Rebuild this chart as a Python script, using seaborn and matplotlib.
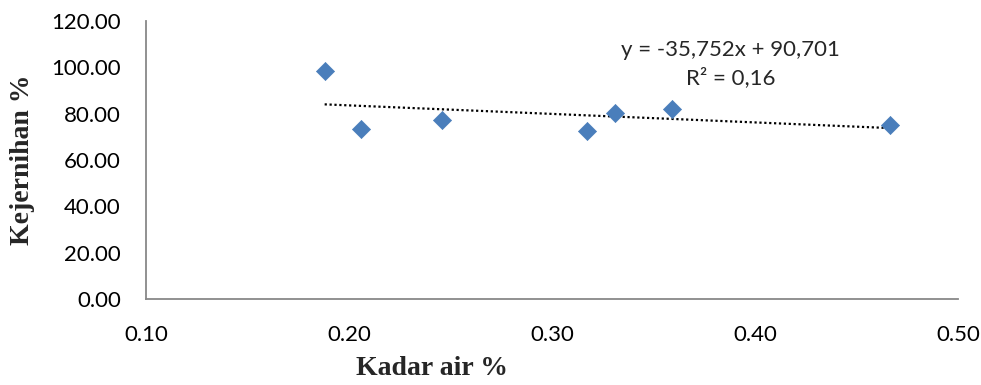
import numpy as np
import pandas as pd
import matplotlib
matplotlib.use("Agg")
import matplotlib.pyplot as plt
import seaborn as sns

kadar_air = [0.188, 0.206, 0.246, 0.317, 0.331, 0.359, 0.4665]
kejernihan = [98.4, 73.3, 77.1, 72.5, 80.4, 82.0, 75.1]
eq_text = "y = -35,752x + 90,701\nR² = 0,16"
x_ticks = [0.10, 0.20, 0.30, 0.40, 0.50]
y_ticks = [0, 20, 40, 60, 80, 100, 120]

df = pd.DataFrame({"Kadar air %": kadar_air, "Kejernihan %": kejernihan})

sns.set_style("white")
plt.rcParams['font.family'] = ['Lato', 'DejaVu Sans']

fig = plt.figure(figsize=(9.81, 3.85), dpi=100)
ax = fig.add_axes([146/981, 86/385, 812/981, 278/385])

slope, intercept = np.polyfit(df["Kadar air %"], df["Kejernihan %"], 1)
xs = np.array([min(kadar_air), max(kadar_air)])
ax.plot(xs, slope * xs + intercept, linestyle=(0, (1, 1.2)), color="black", lw=1.6, zorder=2)

sns.scatterplot(data=df, x="Kadar air %", y="Kejernihan %", marker="D", s=85,
                color="#4a7ebb", edgecolor="#4a7ebb", linewidth=0.5, ax=ax, zorder=3)

ax.set_xlim(0.10, 0.50)
ax.set_ylim(0, 120)
ax.set_xticks(x_ticks)
ax.set_xticklabels([f"{v:.2f}" for v in x_ticks])
ax.set_yticks(y_ticks)
ax.set_yticklabels([f"{v:.2f}" for v in y_ticks])
ax.tick_params(axis="both", length=0, labelsize=16, colors="black")
ax.tick_params(axis="x", pad=19)
ax.tick_params(axis="y", pad=18)

for s in ["top", "right"]:
    ax.spines[s].set_visible(False)
for s in ["left", "bottom"]:
    ax.spines[s].set_color("#888888")
    ax.spines[s].set_linewidth(1.3)

ax.set_xlabel("Kadar air %", fontsize=20, fontweight="bold", family="Liberation Serif")
ax.xaxis.set_label_coords((432 - 146) / 812, -0.25)
ax.xaxis.label.set_va("center")
ax.set_ylabel("Kejernihan %", fontsize=20, fontweight="bold", family="Liberation Serif")
ax.yaxis.set_label_coords((23 - 146) / 812, 0.5)
ax.yaxis.label.set_va("center")

ax.text(0.388, 101.5, eq_text, ha="center", va="center", fontsize=16, linespacing=1.45)

fig.savefig("out.png", dpi=100)
